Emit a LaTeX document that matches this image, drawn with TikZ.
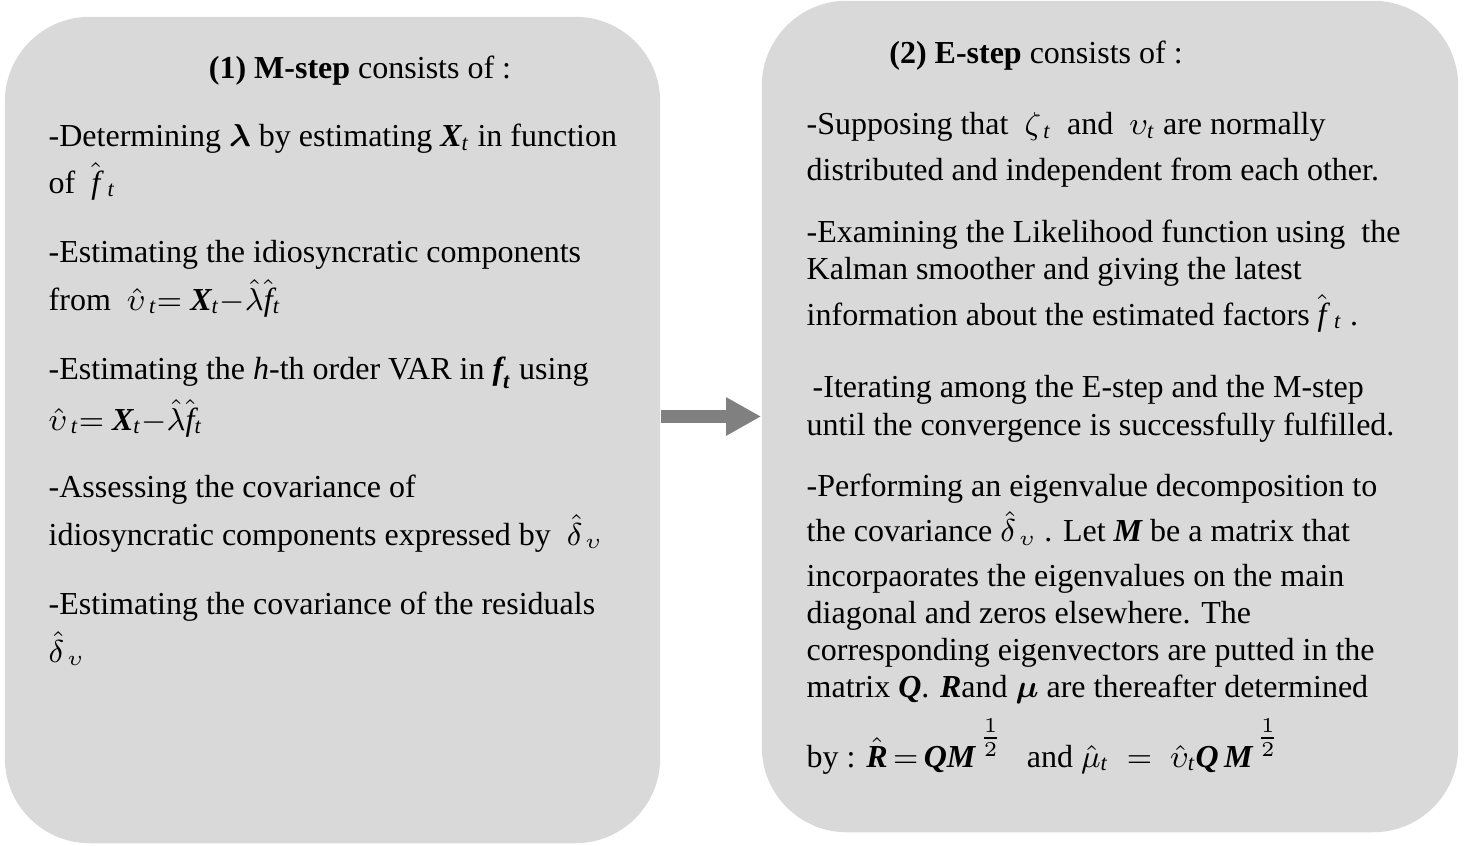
\documentclass[tikz,border=0pt]{standalone}
\usepackage{amsmath}
\usepackage{amssymb}
\usepackage{fontspec}
\setmainfont{Liberation Serif}
\usetikzlibrary{arrows.meta}
\definecolor{boxgray}{HTML}{D9D9D9}
\definecolor{arrowgray}{HTML}{808080}
\newcommand{\mbv}[1]{\boldsymbol{\mathit{#1}}}
\newcommand{\miv}[1]{\mathit{#1}}
\newcommand{\halfpow}{^{\,\raisebox{2.2pt}{$\frac{1}{2}$}}}
\tikzset{
    stepbox/.style={
            fill=boxgray, draw=none, rounded corners=0.85cm, inner sep=0pt
        },
    steptext/.style={
            anchor=base west, align=left, inner sep=0pt,
            font={\fontsize{9.1pt}{10.53pt}\selectfont\lineskiplimit=-50pt}
        },
    steptitle/.style={
            anchor=base, inner sep=0pt,
            font={\fontsize{9.1pt}{10.53pt}\selectfont}
        },
    flowarrow/.style={
            arrowgray, line width=0.13cm, -{Triangle[length=0.35cm, width=0.36cm]}
        },
}

\begin{document}
\begin{tikzpicture}[x=0.01cm, y=-0.01cm]
        \useasboundingbox (0, 0) rectangle (1467, 845);
        %draw the two boxes
        \node[stepbox, minimum width=6.55cm, minimum height=8.26cm] (mbox) at (332.5, 430) {};
        \node[stepbox, minimum width=6.96cm, minimum height=8.31cm] (ebox) at (1110, 416.5) {};
        %draw arrow
        \draw[flowarrow] (mbox.east |- ebox.west) -- (ebox.west);
        %M-step text (placed at the baseline of the last line)
        \node[steptitle] (mtitle) at (360, 78) {\textbf{(1) M-step} consists of :};
        \node[steptext] (mdet) at (48, 193) {-Determining $\boldsymbol{\lambda}$ by estimating $\mbv{X}_{\miv{t}}$ in function\\[2.6pt]
            of \ $\hat{\miv{f}}_{\;\miv{t}}$};
        \node[steptext] (midio) at (48, 310) {-Estimating the idiosyncratic components\\[2.85pt]
            from \ $\hat{\upsilon}_{\,\miv{t}}{=}\ \mbv{X}_{\miv{t}}{-}\hat{\lambda}\hat{\miv{f}}_{\miv{t}}$};
        \node[steptext] (mvar) at (48, 430) {-Estimating the \textit{h}-th order VAR in $\mbv{f}_{\mbv{t}}$ using\\[3.7pt]
            $\hat{\upsilon}_{\,\miv{t}}{=}\ \mbv{X}_{\miv{t}}{-}\hat{\lambda}\hat{\miv{f}}_{\miv{t}}$};
        \node[steptext] (mcov) at (48, 545) {-Assessing the covariance of\\[2.85pt]
            idiosyncratic components expressed by \ $\hat{\delta}_{\,\upsilon}$};
        \node[steptext] (mres) at (48, 662) {-Estimating the covariance of the residuals\\[2.85pt]
            $\hat{\delta}_{\,\upsilon}$};
        %E-step text
        \node[steptitle] (etitle) at (1036, 63) {\textbf{(2) E-step} consists of :};
        \node[steptext] (enorm) at (806, 180) {-Supposing that \ $\zeta_{\,\miv{t}}$ \ and \ $\upsilon_{\miv{t}}$ are normally\\[2.3pt]
            distributed and independent from each other.};
        \node[steptext] (elik) at (806, 325) {-Examining the Likelihood function using \ the\\
            Kalman smoother and giving the latest\\[2.3pt]
            information about the estimated factors $\hat{\miv{f}}_{\;\miv{t}}$ .};
        \node[steptext] (eiter) at (806, 435) {\hspace{0.06cm}-Iterating among the E-step and the M-step\\
            until the convergence is successfully fulfilled.};
        \node[steptext] (eeig) at (806, 767) {-Performing an eigenvalue decomposition to\\[2.3pt]
            the covariance $\hat{\delta}_{\,\upsilon}$ . Let $\mbv{M}$ be a matrix that\\[2.3pt]
            incorpaorates the eigenvalues on the main\\
            diagonal and zeros elsewhere. The\\
            corresponding eigenvectors are putted in the\\
            matrix $\mbv{Q}$. $\mbv{R}$and $\boldsymbol{\mu}$ are thereafter determined\\[9.1pt]
            by : $\hat{\mbv{R}}\,{=}\,\mbv{QM}\halfpow$ \ \ and $\hat{\mu}_{\miv{t}} \;=\; \hat{\upsilon}_{\miv{t}}\mbv{Q}\,\mbv{M}\halfpow$};
    \end{tikzpicture}
\end{document}
